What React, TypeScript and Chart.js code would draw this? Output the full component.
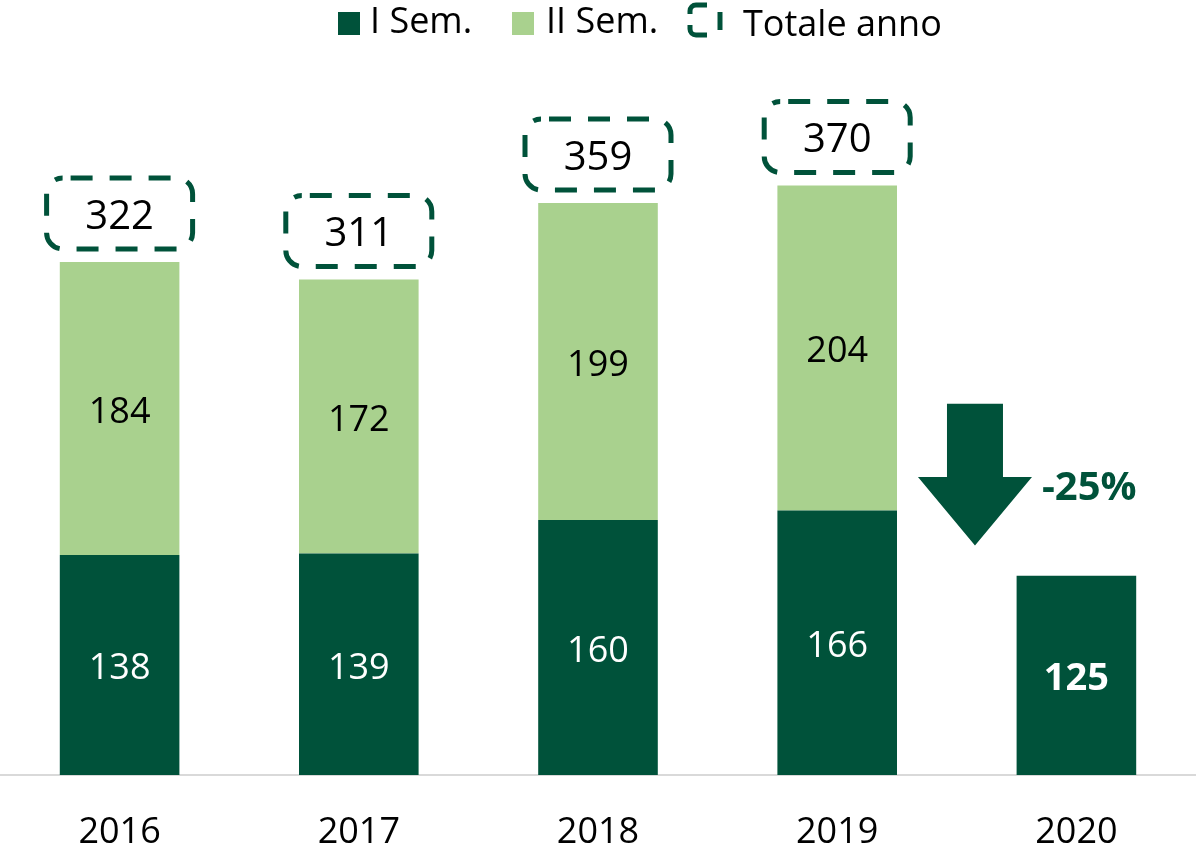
import React, { useEffect, useRef } from "react";
import { Chart, registerables } from "chart.js";

Chart.register(...registerables);

const categories = ["2016", "2017", "2018", "2019", "2020"];
const firstHalf: (number | null)[] = [138, 139, 160, 166, 125];
const secondHalf: (number | null)[] = [184, 172, 199, 204, null];
const totals: (number | null)[] = [322, 311, 359, 370, null];
const seriesLabels = ["I Sem.", "II Sem.", "Totale anno"];
const changeLabel = "-25%";
// arrow annotation in data units: top of shaft, start of head, tip
const arrowValues = [233, 187, 144];

const DARK = "#00523a";
const LIGHT = "#a9d18e";
const FONT = '"Open Sans", "DejaVu Sans", sans-serif';

const overlayPlugin = {
  id: "overlay",
  afterDatasetsDraw(chart: any) {
    const ctx: CanvasRenderingContext2D = chart.ctx;
    const xs = chart.scales.x;
    const ys = chart.scales.y;

    // segment labels
    chart.data.datasets.forEach((ds: any, di: number) => {
      const meta = chart.getDatasetMeta(di);
      meta.data.forEach((bar: any, i: number) => {
        const v = ds.data[i];
        if (v == null) return;
        const p = bar.getProps(["x", "y", "base"], true);
        const cy = (p.y + p.base) / 2 + 4;
        ctx.save();
        ctx.fillStyle = di === 0 ? "#ffffff" : "#000000";
        const bold = di === 0 && i === categories.length - 1;
        ctx.font = (bold ? "bold 38px " : "36px ") + FONT;
        ctx.textAlign = "center";
        ctx.textBaseline = "middle";
        ctx.fillText(String(v), p.x, cy);
        ctx.restore();
      });
    });

    // totals in dashed rounded boxes
    totals.forEach((t, i) => {
      if (t == null) return;
      const cx = xs.getPixelForValue(i);
      const top = ys.getPixelForValue(t);
      const w = 146;
      const h = 71;
      const bottom = top - 13;
      const bx = cx - w / 2;
      const by = bottom - h;
      ctx.save();
      ctx.strokeStyle = DARK;
      ctx.lineWidth = 5;
      ctx.setLineDash([22, 17]);
      ctx.lineDashOffset = -8;
      ctx.beginPath();
      (ctx as any).roundRect(bx, by, w, h, 16);
      ctx.stroke();
      ctx.setLineDash([]);
      ctx.fillStyle = "#000000";
      ctx.font = "40px " + FONT;
      ctx.textAlign = "center";
      ctx.textBaseline = "middle";
      ctx.fillText(String(t), cx, by + h / 2 + 4);
      ctx.restore();
    });

    // arrow between 2019 and 2020
    const n = categories.length;
    const ax = xs.getPixelForValue(n - 2) + (xs.getPixelForValue(n - 1) - xs.getPixelForValue(n - 2)) * 0.576;
    const yTop = ys.getPixelForValue(arrowValues[0]);
    const yNeck = ys.getPixelForValue(arrowValues[1]);
    const yTip = ys.getPixelForValue(arrowValues[2]);
    ctx.save();
    ctx.fillStyle = DARK;
    ctx.beginPath();
    ctx.moveTo(ax - 28, yTop);
    ctx.lineTo(ax + 28, yTop);
    ctx.lineTo(ax + 28, yNeck);
    ctx.lineTo(ax + 57, yNeck);
    ctx.lineTo(ax, yTip);
    ctx.lineTo(ax - 57, yNeck);
    ctx.lineTo(ax - 28, yNeck);
    ctx.closePath();
    ctx.fill();
    ctx.font = "bold 40px " + FONT;
    ctx.textAlign = "left";
    ctx.textBaseline = "middle";
    ctx.fillText(changeLabel, ax + 67, ys.getPixelForValue(182) + 4);
    ctx.restore();
  },
  afterDraw(chart: any) {
    const ctx: CanvasRenderingContext2D = chart.ctx;
    ctx.save();
    ctx.font = "36px " + FONT;
    ctx.textBaseline = "middle";
    ctx.textAlign = "left";
    // I Sem.
    ctx.fillStyle = DARK;
    ctx.fillRect(338, 12, 22, 23);
    ctx.fillStyle = "#000";
    ctx.fillText(seriesLabels[0], 370, 23);
    // II Sem.
    ctx.fillStyle = LIGHT;
    ctx.fillRect(512, 12, 22, 23);
    ctx.fillStyle = "#000";
    ctx.fillText(seriesLabels[1], 546, 23);
    // Totale anno icon
    ctx.strokeStyle = DARK;
    ctx.lineWidth = 5;
    ctx.beginPath();
    ctx.moveTo(707, 5);
    ctx.lineTo(696, 5);
    ctx.arcTo(690, 5, 690, 11, 6);
    ctx.lineTo(690, 14);
    ctx.stroke();
    ctx.beginPath();
    ctx.moveTo(690, 25);
    ctx.lineTo(690, 29);
    ctx.arcTo(690, 35, 696, 35, 6);
    ctx.lineTo(707, 35);
    ctx.stroke();
    ctx.beginPath();
    ctx.moveTo(720, 12);
    ctx.lineTo(720, 30);
    ctx.stroke();
    ctx.fillStyle = "#000";
    ctx.fillText(seriesLabels[2], 743, 26);
    ctx.restore();
  },
};

export default function App() {
  const ref = useRef<HTMLCanvasElement | null>(null);

  useEffect(() => {
    if (!ref.current) return;
    const chart = new Chart(ref.current, {
      type: "bar",
      data: {
        labels: categories,
        datasets: [
          {
            label: seriesLabels[0],
            data: firstHalf,
            backgroundColor: DARK,
            borderWidth: 0,
            barPercentage: 0.5,
            categoryPercentage: 1,
          },
          {
            label: seriesLabels[1],
            data: secondHalf,
            backgroundColor: LIGHT,
            borderWidth: 0,
            barPercentage: 0.5,
            categoryPercentage: 1,
          },
        ],
      },
      options: {
        animation: false,
        responsive: false,
        devicePixelRatio: 1,
        layout: { padding: { top: 58, bottom: 0, left: 0, right: 0 } },
        plugins: {
          legend: { display: false },
          tooltip: { enabled: false },
        },
        scales: {
          x: {
            stacked: true,
            grid: { display: false, drawTicks: false },
            border: { display: true, color: "#d9d9d9", width: 2 },
            ticks: {
              color: "#000000",
              font: { family: FONT, size: 36 },
              padding: 36,
              maxRotation: 0,
            },
            afterFit: (scale: any) => {
              scale.height = 79;
            },
          },
          y: {
            stacked: true,
            display: false,
            min: 0,
            max: 450,
          },
        },
      },
      plugins: [overlayPlugin],
    });
    return () => chart.destroy();
  }, []);

  return (
    <div style={{ position: "absolute", left: 0, top: 0, width: 1196, height: 854 }}>
      <canvas ref={ref} width={1196} height={854} />
    </div>
  );
}
